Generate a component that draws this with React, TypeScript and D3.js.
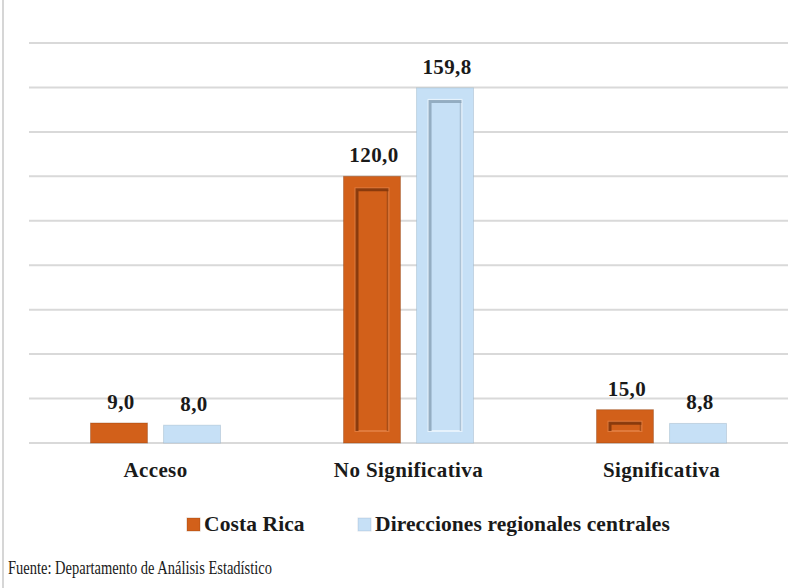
import * as React from "react";
import * as d3 from "d3";

const categories = ["Acceso", "No Significativa", "Significativa"];
const seriesNames = ["Costa Rica", "Direcciones regionales centrales"];
const costaRica = [9.0, 120.0, 15.0];
const direcciones = [8.0, 159.8, 8.8];
const yTicks = [0, 20, 40, 60, 80, 100, 120, 140, 160, 180];

const colors = ["#d2601a", "#c6e0f6"];
const bevelDark = ["#7e340a", "#8aa3b8"];
const bevelLight = ["#e07a3c", "#e6f2fc"];

const FONT = "Liberation Serif";
const W = 799;
const H = 588;
const margin = {left: 29, right: 11, top: 43, bottom: 145};

export default function App() {
  const plotW = W - margin.left - margin.right;
  const plotH = H - margin.top - margin.bottom;

  const fmt = (v: number) => d3.format(".1f")(v).replace(".", ",");

  const x0 = d3.scaleBand().domain(categories).range([0, plotW]);
  const x1 = d3.scaleBand().domain(seriesNames)
    .range([x0.bandwidth() / 2 - 65, x0.bandwidth() / 2 + 65])
    .paddingInner(0.22);
  const y = d3.scaleLinear().domain([0, 180]).range([plotH, 0]);

  const series = [costaRica, direcciones];

  return (
    <svg width={W} height={H} style={{position: "absolute", left: 0, top: 0, background: "#fff"}}>
      {/* frame line on the left */}
      <line x1={3} x2={3} y1={0} y2={H} stroke="#d6d6d6" strokeWidth={2}/>

      <g transform={`translate(${margin.left},${margin.top})`}>
        {yTicks.map(t =>
          <line key={t} x1={0} x2={plotW} y1={y(t)} y2={y(t)} stroke="#d9d9d9" strokeWidth={2}/>)}

        {categories.map((cat, ci) =>
          <g key={cat} transform={`translate(${x0(cat)},0)`}>
            {series.map((vals, s) => {
              const v = vals[ci];
              const bx = x1(seriesNames[s])!;
              const bw = x1.bandwidth();
              const by = y(v);
              const bh = plotH - by;
              const ix = 12;
              const iy = Math.min(12, bh * 0.36);
              const ih = Math.max(2, bh - 2 * iy);
              return <g key={s}>
                <rect x={bx} y={by} width={bw} height={bh} fill={colors[s]}
                      stroke={bevelDark[s]} strokeOpacity={0.35} strokeWidth={1}/>
                {bh > 25 && <g>
                  <rect x={bx + ix} y={by + iy} width={bw - 2 * ix} height={ih}
                        fill="none" stroke={bevelLight[s]} strokeWidth={2}/>
                  <path d={`M${bx + ix + 1.5},${by + iy + ih} V${by + iy + 1.5} H${bx + bw - ix}`}
                        fill="none" stroke={bevelDark[s]} strokeWidth={3} strokeOpacity={0.85}/>
                  <path d={`M${bx + bw - ix - 1},${by + iy + 2} V${by + iy + ih}`}
                        fill="none" stroke={bevelDark[s]} strokeOpacity={0.55} strokeWidth={1.5}/>
                </g>}
                <text x={bx + bw / 2 + 2} y={by - 14} textAnchor="middle" fontFamily={FONT}
                      fontWeight="bold" fontSize={21} letterSpacing={0.4} fill="#1a1a1a">{fmt(v)}</text>
              </g>;
            })}
          </g>)}

        {categories.map(cat =>
          <text key={cat} x={x0(cat)! + x0.bandwidth() / 2} y={plotH + 34} textAnchor="middle"
                fontFamily={FONT} fontWeight="bold" fontSize={21} letterSpacing={0.4}
                fill="#1a1a1a">{cat}</text>)}
      </g>

      {/* legend */}
      <g transform="translate(187,531)">
        {seriesNames.map((name, i) => {
          const lx = i === 0 ? 0 : 171;
          return <g key={name}>
            <rect x={lx} y={-13} width={13} height={13} fill={colors[i]}
                  stroke={bevelDark[i]} strokeOpacity={0.3}/>
            <text x={lx + 17} y={0} fontFamily={FONT} fontWeight="bold" fontSize={21.5}
                  letterSpacing={0.1} fill="#1a1a1a">{name}</text>
          </g>;
        })}
      </g>

      {/* source */}
      <text x={8} y={574} fontFamily={FONT} fontSize={18} fill="#1a1a1a"
            textLength={264} lengthAdjust="spacingAndGlyphs">
        Fuente: Departamento de Análisis Estadístico
      </text>
    </svg>
  );
}
